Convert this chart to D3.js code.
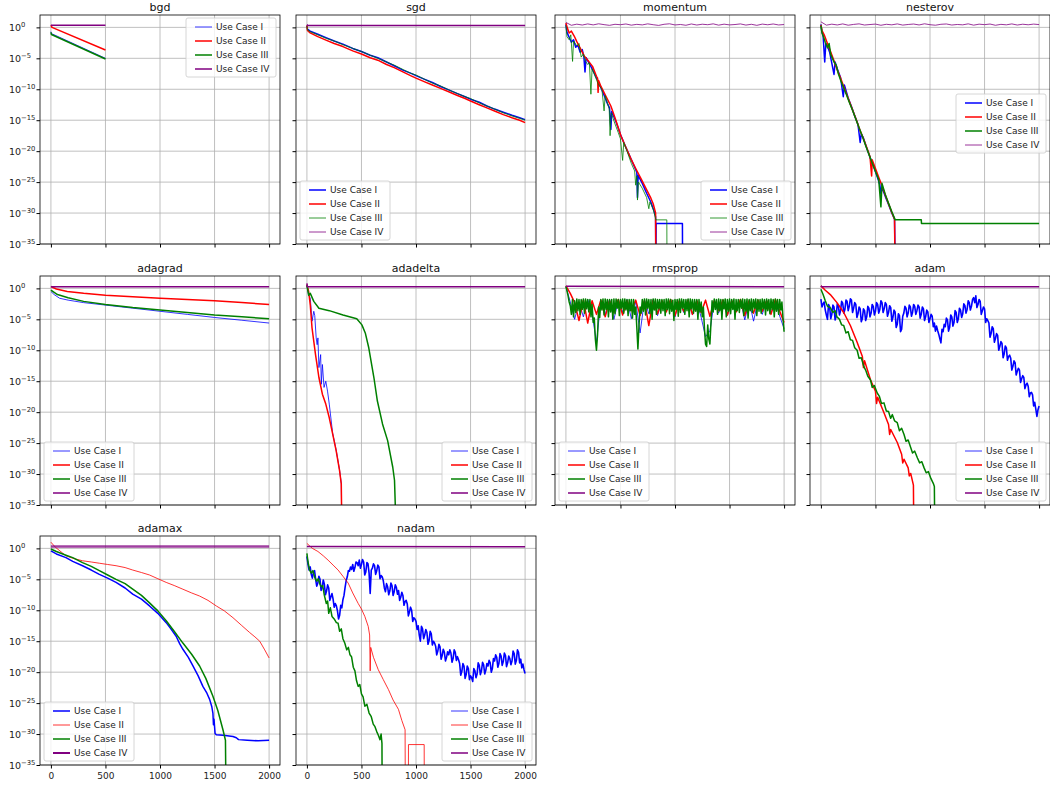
<!DOCTYPE html>
<html><head><meta charset="utf-8">
<script src="https://cdn.jsdelivr.net/npm/d3@7"></script>
<style>body{margin:0;background:#fff} svg{display:block} text{font-family:"DejaVu Sans",sans-serif}</style>
</head><body><svg id="c" width="1050" height="787"></svg>
<script>
// ---- labels ----
const seriesNames = ["Use Case I","Use Case II","Use Case III","Use Case IV"];
const seriesColors = ["#0000ff","#ff0000","#008000","#800080"];
const xTicks = [0,500,1000,1500,2000];
const yTickExps = [0,-5,-10,-15,-20,-25,-30,-35];

// ---- data: [iteration, log10(loss)] pairs; -40 means the loss fell to zero ----
const bgd_I = [[0,-0.7],[5,-1.0],[500,-5.0]];
const bgd_II = [[0,0.35],[10,0.0],[500,-3.65]];
const bgd_III = [[0,-0.8],[5,-1.15],[500,-5.1]];
const bgd_IV = [[0,0.35],[500,0.35]];

const sgd_I = [[0,0.3],[5,-0.3],[30,-0.6],[100,-1.1],[180,-1.7],[250,-2.2],[330,-2.7],[420,-3.4],[500,-3.9],[580,-4.5],[650,-4.9],[730,-5.6],[800,-6.2],[880,-6.9],[950,-7.4],[1000,-7.8],[1080,-8.4],[1150,-8.9],[1230,-9.6],[1300,-10.1],[1380,-10.7],[1450,-11.2],[1500,-11.6],[1580,-12.1],[1650,-12.7],[1720,-13.2],[1800,-13.7],[1880,-14.2],[1950,-14.6],[2000,-14.9]];
const sgd_II = [[0,0.3],[5,-0.5],[30,-0.9],[100,-1.5],[180,-2.1],[250,-2.6],[330,-3.1],[420,-3.8],[500,-4.3],[580,-4.9],[650,-5.3],[730,-6.0],[800,-6.5],[880,-7.2],[950,-7.8],[1000,-8.2],[1080,-8.8],[1150,-9.3],[1230,-9.9],[1300,-10.4],[1380,-11.0],[1450,-11.5],[1500,-11.9],[1580,-12.5],[1650,-13.0],[1720,-13.5],[1800,-14.1],[1880,-14.6],[1950,-15.0],[2000,-15.4]];
const sgd_III = [[0,0.2],[5,-0.4],[30,-0.7],[100,-1.2],[180,-1.8],[250,-2.2],[330,-2.8],[420,-3.4],[500,-3.9],[580,-4.5],[650,-5.0],[730,-5.6],[800,-6.1],[880,-6.8],[950,-7.4],[1000,-7.7],[1080,-8.4],[1150,-9.0],[1230,-9.5],[1300,-10.1],[1380,-10.7],[1450,-11.2],[1500,-11.5],[1580,-12.2],[1650,-12.7],[1720,-13.2],[1800,-13.8],[1880,-14.3],[1950,-14.7],[2000,-15.0]];
const sgd_IV = [[0,0.45],[10,0.3],[2000,0.3]];

const momentum_I = [[0,0.5],[10,-0.8],[30,-1.6],[50,-2.4],[70,-2.0],[90,-3.2],[110,-2.9],[130,-4.0],[150,-3.6],[165,-4.8],[175,-7.2],[185,-4.9],[220,-6.0],[260,-7.4],[300,-8.9],[340,-10.5],[380,-12.3],[400,-13.0],[412,-16.5],[420,-13.6],[460,-15.3],[500,-17.3],[540,-19.0],[580,-20.6],[620,-22.2],[650,-23.4],[656,-27.5],[662,-23.9],[700,-25.2],[740,-26.8],[780,-28.3],[810,-29.8],[822,-30.6],[825,-40],[827,-31.7],[1068,-31.7],[1070,-40]];
const momentum_II = [[0,0.7],[15,-0.2],[30,-0.9],[50,-0.6],[76,-1.4],[100,-2.3],[130,-3.3],[168,-4.6],[200,-5.3],[244,-6.3],[280,-7.9],[290,-8.2],[295,-10.5],[300,-8.6],[320,-9.5],[360,-10.9],[412,-12.7],[450,-14.6],[504,-17.5],[550,-19.4],[595,-21.2],[640,-22.8],[687,-24.4],[730,-25.9],[779,-27.6],[800,-28.5],[815,-29.5],[822,-30.0],[824,-40]];
const momentum_III = [[0,0.3],[10,-1.5],[30,-2.0],[45,-1.2],[61,-5.5],[70,-2.2],[100,-3.0],[120,-2.6],[140,-4.8],[160,-4.3],[180,-5.5],[200,-6.0],[215,-5.7],[229,-10.8],[240,-6.7],[270,-8.0],[300,-9.3],[330,-10.0],[350,-13.5],[360,-11.0],[397,-13.2],[405,-17.5],[415,-13.8],[450,-15.6],[480,-17.0],[500,-18.0],[520,-21.5],[530,-18.6],[560,-20.0],[600,-22.0],[630,-23.2],[640,-25.5],[650,-24.0],[656,-27.9],[665,-25.0],[700,-26.0],[740,-27.5],[760,-29.3],[770,-28.2],[800,-29.4],[815,-30.4],[825,-31.1],[925,-31.1],[927,-40]];
const momentum_IV_step50 = [0.8,0.34,0.52,0.38,0.56,0.40,0.58,0.44,0.33,0.50,0.43,0.55,0.36,0.49,0.40,0.57,0.43,0.32,0.50,0.58,0.39,0.47,0.34,0.55,0.38,0.51,0.43,0.57,0.36,0.52,0.40,0.46,0.56,0.37,0.50,0.33,0.53,0.42,0.55,0.39,0.46];

const nesterov_I = [[0,0.5],[8,-0.6],[20,-1.3],[35,-5.6],[45,-2.6],[60,-3.0],[80,-4.0],[120,-7.6],[130,-5.6],[150,-6.7],[180,-8.1],[205,-11.2],[215,-9.3],[250,-11.4],[280,-12.8],[310,-14.3],[340,-15.7],[360,-18.6],[370,-17.2],[390,-17.9],[420,-19.5],[450,-21.0],[480,-22.3],[510,-23.8],[540,-25.4],[550,-26.9],[560,-25.9],[590,-27.3],[620,-28.6],[650,-30.0],[675,-31.0],[682,-40]];
const nesterov_II = [[0,0.4],[10,-0.5],[30,-1.2],[60,-2.6],[90,-4.0],[120,-5.4],[150,-6.9],[180,-8.2],[210,-9.6],[240,-11.0],[270,-12.4],[300,-13.8],[330,-15.2],[360,-16.7],[390,-18.0],[420,-19.4],[450,-20.9],[465,-24.0],[470,-21.4],[500,-22.8],[530,-24.2],[560,-25.6],[590,-27.1],[620,-28.5],[650,-29.9],[675,-31.0],[680,-40]];
const nesterov_III = [[0,0.3],[10,-0.9],[25,-1.6],[40,-2.4],[60,-3.3],[75,-2.6],[90,-4.4],[120,-5.6],[140,-6.1],[160,-7.5],[180,-8.5],[200,-9.4],[230,-10.7],[260,-12.1],[290,-13.4],[320,-14.8],[350,-16.2],[380,-17.6],[410,-19.1],[440,-20.5],[470,-21.9],[500,-23.3],[530,-24.6],[550,-29.0],[560,-25.2],[590,-27.0],[620,-28.4],[650,-29.8],[681,-31.1],[920,-31.1],[922,-31.7],[2000,-31.7]];
const nesterov_IV_step50 = [0.9,0.36,0.52,0.39,0.56,0.35,0.48,0.57,0.38,0.46,0.53,0.34,0.50,0.41,0.56,0.37,0.47,0.54,0.39,0.58,0.43,0.35,0.50,0.55,0.38,0.47,0.41,0.57,0.36,0.52,0.44,0.54,0.34,0.49,0.41,0.56,0.38,0.51,0.42,0.53,0.45];

const adagrad_I = [[0,-0.5],[30,-1.0],[80,-1.6],[158,-1.9],[300,-2.3],[500,-2.7],[750,-3.2],[1000,-3.7],[1250,-4.2],[1500,-4.7],[1750,-5.15],[2000,-5.6]];
const adagrad_II = [[0,0.3],[50,-0.1],[150,-0.5],[300,-0.8],[500,-1.1],[750,-1.35],[1000,-1.6],[1250,-1.8],[1500,-2.0],[1750,-2.3],[2000,-2.6]];
const adagrad_III = [[0,-0.3],[60,-1.0],[158,-1.5],[300,-2.1],[500,-2.6],[750,-3.1],[1000,-3.5],[1250,-3.9],[1500,-4.3],[1750,-4.6],[2000,-4.9]];
const adagrad_IV = [[0,0.25],[2000,0.25]];

const adadelta_I = [[0,0.5],[16,-1.1],[31,-1.6],[47,-5.3],[63,-3.7],[72,-4.4],[85,-8.0],[94,-9.1],[101,-8.0],[110,-12.8],[126,-10.7],[132,-15.5],[142,-12.3],[157,-16.0],[173,-15.0],[189,-16.6],[205,-18.7],[236,-23.4],[268,-26.1],[299,-29.3],[315,-31.5],[321,-40]];
const adadelta_II = [[0,0.6],[16,-0.5],[31,-2.7],[47,-6.4],[79,-10.7],[110,-14.4],[142,-17.1],[173,-18.7],[205,-20.9],[236,-23.5],[268,-26.2],[299,-29.4],[315,-31.6],[321,-40]];
const adadelta_III = [[0,0.5],[16,-1.1],[31,-0.8],[63,-2.1],[110,-3.2],[205,-3.6],[331,-4.3],[457,-4.9],[504,-5.9],[535,-7.2],[567,-9.6],[614,-14.4],[646,-18.2],[693,-21.9],[740,-24.6],[787,-28.9],[803,-31.0],[819,-40]];
const adadelta_IV = [[0,0.8],[5,0.25],[2000,0.25]];

const rmsprop_I_step40 = [0.3,-2.2,-5.0,-2.2,-4.6,-1.8,-4.0,-8.8,-2.0,-4.2,-1.8,-5.0,-2.0,-3.8,-1.8,-4.9,-2.1,-7.2,-1.9,-4.1,-1.8,-4.4,-2.0,-3.7,-1.9,-4.6,-2.0,-3.9,-1.8,-4.3,-2.0,-4.7,-7.8,-6.9,-2.1,-4.0,-1.9,-4.4,-2.0,-3.8,-1.9,-5.1,-2.0,-5.3,-2.1,-4.2,-1.9,-4.0,-2.0,-4.5,-6.5];
const rmsprop_II_step40 = [0.4,-0.8,-2.3,-5.2,-1.9,-5.6,-2.0,-4.2,-1.9,-4.6,-2.0,-3.9,-1.8,-4.3,-2.0,-3.6,-1.9,-4.4,-2.0,-6.0,-1.9,-4.1,-2.0,-3.8,-1.8,-4.4,-2.0,-3.7,-1.9,-4.2,-2.0,-3.9,-1.9,-4.5,-2.0,-3.6,-1.9,-4.3,-2.0,-3.8,-1.8,-4.4,-2.0,-4.0,-1.9,-3.7,-2.0,-4.2,-1.8,-3.7,-5.5];
const rmsprop_III_step10 = [0.3,-0.4,-1.2,-2.2,-2.8,-4.2,-1.8,-4.6,-2.0,-3.9,
 -1.7,-3.6,-1.8,-4.2,-1.8,-3.4,-1.7,-4.0,-1.7,-3.3,
 -1.8,-3.8,-1.8,-4.6,-2.6,-5.5,-4.8,-8.2,-10.0,-7.5,
 -3.0,-4.7,-1.8,-3.5,-1.7,-4.3,-1.7,-3.4,-1.8,-4.6,
 -1.8,-3.8,-1.8,-5.0,-1.7,-4.1,-1.7,-3.2,-1.8,-4.4,
 -1.8,-3.2,-1.7,-4.0,-1.7,-3.5,-1.8,-4.4,-1.8,-3.6,
 -1.8,-4.8,-1.8,-4.2,-3.0,-6.3,-9.8,-6.0,-3.0,-4.0,
 -1.8,-3.7,-1.7,-4.3,-1.7,-3.2,-1.8,-4.1,-1.8,-5.0,
 -1.7,-3.5,-1.7,-4.2,-1.8,-3.3,-1.8,-4.0,-1.8,-3.6,
 -1.8,-4.4,-1.7,-3.4,-1.7,-4.1,-1.8,-3.7,-1.9,-5.2,
 -1.8,-3.4,-1.8,-4.5,-1.7,-3.9,-1.7,-3.2,-1.8,-4.2,
 -1.8,-3.6,-1.7,-4.6,-1.7,-3.3,-1.8,-4.0,-1.8,-3.7,
 -1.8,-5.0,-1.8,-3.8,-2.2,-4.6,-3.0,-6.5,-9.0,-9.4,
 -5.9,-8.2,-9.0,-5.5,-2.0,-3.8,-1.7,-3.4,-1.8,-4.2,
 -1.7,-3.6,-1.8,-5.0,-1.8,-3.3,-1.7,-4.6,-1.8,-3.7,
 -1.7,-4.1,-1.8,-3.4,-1.7,-5.0,-1.8,-3.6,-1.8,-3.9,
 -1.8,-3.2,-1.7,-4.4,-1.8,-3.7,-1.7,-4.8,-1.8,-3.6,
 -1.7,-3.9,-1.8,-3.2,-1.7,-4.4,-1.8,-3.7,-1.8,-4.0,
 -1.7,-3.3,-1.8,-4.3,-1.7,-3.6,-1.8,-4.1,-1.7,-3.4,
 -1.8,-4.6,-1.7,-3.7,-1.8,-4.2,-1.8,-3.5,-2.2,-4.8,
 -7.0];
const rmsprop_IV = [[0,0.35],[2000,0.25]];

const adam_I_step10 = [-1.75,-3.0,-2.5,-2.2,-3.5,-4.3,-5.0,-2.6,-3.0,-4.9,
 -4.2,-2.7,-3.0,-5.1,-4.5,-2.5,-2.8,-4.3,-3.6,-2.1,
 -2.4,-4.0,-3.4,-1.9,-2.1,-3.6,-2.9,-1.7,-1.9,-3.9,
 -3.2,-2.3,-2.6,-4.7,-4.1,-3.0,-3.3,-5.4,-4.9,-3.3,
 -3.6,-5.2,-4.6,-2.9,-3.2,-4.6,-4.0,-2.6,-2.9,-4.3,
 -3.7,-2.3,-2.6,-4.0,-3.4,-2.0,-2.3,-3.9,-3.3,-2.3,
 -2.6,-4.5,-3.9,-2.8,-3.1,-5.3,-4.7,-3.5,-3.8,-6.3,
 -5.8,-4.1,-4.4,-7.0,-6.6,-4.5,-4.0,-2.9,-3.2,-4.6,
 -4.0,-2.7,-3.0,-4.5,-3.9,-2.6,-2.9,-4.2,-3.6,-2.7,
 -3.0,-4.8,-4.2,-3.0,-3.3,-5.2,-4.6,-3.5,-3.8,-5.5,
 -4.9,-4.2,-4.5,-6.2,-5.6,-6.9,-6.1,-6.8,-7.4,-8.1,
 -8.8,-6.6,-7.0,-5.8,-6.2,-4.8,-5.1,-6.9,-6.3,-4.3,
 -4.6,-6.1,-5.5,-3.6,-3.9,-5.5,-4.9,-3.2,-3.5,-4.7,
 -4.1,-2.5,-2.8,-4.0,-3.4,-2.0,-2.3,-3.5,-2.9,-1.8,
 -1.5,-2.3,-1.2,-3.1,-2.6,-1.8,-2.1,-4.2,-3.6,-3.0,
 -3.3,-5.5,-4.9,-5.2,-5.6,-7.9,-7.3,-6.2,-6.5,-8.7,
 -8.1,-7.3,-7.6,-10.0,-9.4,-8.6,-8.9,-11.2,-10.6,-9.3,
 -9.6,-11.6,-11.0,-10.8,-11.3,-13.2,-12.6,-11.7,-12.0,-14.0,
 -13.4,-12.9,-13.2,-15.2,-14.6,-14.1,-14.4,-16.2,-15.6,-15.3,
 -15.8,-17.5,-16.9,-16.8,-17.2,-19.0,-18.4,-19.5,-20.7,-19.6,
 -19.0];
const adam_II = [[0,0.4],[40,-0.3],[86,-1.0],[147,-2.3],[209,-3.9],[270,-6.0],[332,-8.7],[380,-11.0],[390,-12.8],[400,-11.7],[455,-14.8],[500,-16.6],[510,-18.6],[520,-17.6],[578,-20.1],[620,-22.0],[630,-23.6],[640,-22.8],[700,-24.9],[740,-26.8],[750,-28.2],[762,-27.6],[800,-29.0],[810,-30.3],[823,-29.9],[848,-31.8],[852,-40]];
const adam_III = [[0,-0.15],[20,-1.0],[40,-2.0],[60,-2.9],[86,-3.1],[110,-3.9],[130,-3.6],[147,-4.6],[170,-5.0],[190,-5.9],[209,-6.0],[230,-7.2],[250,-7.0],[270,-8.3],[290,-8.4],[310,-9.6],[332,-10.0],[350,-11.3],[370,-11.2],[393,-12.6],[410,-13.2],[430,-14.2],[455,-14.8],[470,-16.0],[490,-15.7],[516,-16.9],[535,-17.4],[555,-18.6],[578,-18.5],[600,-19.8],[620,-19.9],[639,-21.0],[655,-20.4],[675,-21.4],[700,-21.7],[720,-23.0],[740,-22.6],[762,-23.6],[780,-24.7],[800,-24.5],[823,-25.7],[840,-26.6],[860,-26.3],[885,-27.4],[905,-28.2],[925,-28.0],[946,-29.0],[965,-29.8],[985,-29.6],[1008,-30.7],[1030,-31.5],[1040,-32.0],[1044,-40]];
const adam_IV = [[0,0.4],[10,0.25],[2000,0.25]];

const adamax_I = [[0,-0.4],[50,-0.9],[138,-1.5],[200,-2.1],[290,-2.8],[370,-3.5],[444,-4.2],[520,-4.8],[597,-5.5],[680,-6.4],[750,-7.4],[830,-8.2],[904,-9.3],[980,-10.5],[1057,-12.0],[1100,-13.0],[1148,-14.2],[1180,-15.4],[1210,-16.3],[1260,-17.6],[1302,-19.0],[1350,-20.6],[1393,-22.3],[1430,-23.4],[1455,-24.4],[1475,-25.6],[1485,-26.6],[1490,-28.5],[1495,-27.6],[1505,-29.9],[1516,-30.1],[1580,-30.2],[1669,-30.4],[1700,-30.6],[1720,-30.9],[1800,-31.0],[1900,-31.1],[2000,-31.0]];
const adamax_II = [[0,1.0],[40,0.2],[138,-1.2],[200,-1.6],[290,-2.0],[370,-2.2],[444,-2.4],[520,-2.6],[597,-2.8],[680,-3.1],[750,-3.5],[830,-3.9],[904,-4.3],[980,-4.9],[1057,-5.5],[1130,-6.0],[1210,-6.6],[1290,-7.2],[1363,-7.7],[1440,-8.4],[1516,-9.3],[1590,-10.1],[1669,-11.2],[1745,-12.4],[1822,-13.6],[1870,-14.3],[1914,-15.0],[1960,-16.4],[2000,-17.7]];
const adamax_III = [[0,-0.1],[50,-0.5],[138,-1.1],[200,-1.5],[290,-2.3],[370,-2.9],[444,-3.6],[520,-4.3],[597,-5.0],[680,-5.7],[750,-6.6],[830,-7.6],[904,-8.8],[980,-10.1],[1057,-11.7],[1130,-13.4],[1210,-15.3],[1290,-17.1],[1363,-19.0],[1420,-21.0],[1485,-23.9],[1530,-26.2],[1577,-29.3],[1600,-31.0],[1605,-40]];
const adamax_IV = [[0,0.3],[2000,0.3]];

const nadam_I_step10 = [-1.3,-2.6,-3.5,-3.0,-4.2,-4.8,-3.8,-3.6,-5.0,-6.1,
 -5.6,-4.5,-5.0,-6.8,-6.3,-5.1,-5.8,-7.5,-6.9,-5.9,
 -6.4,-8.4,-7.8,-7.3,-8.2,-9.5,-8.9,-9.3,-10.1,-11.4,
 -10.8,-9.2,-9.6,-8.3,-7.6,-6.3,-5.2,-4.6,-3.6,-3.7,
 -3.0,-3.4,-2.6,-3.7,-3.1,-2.2,-2.3,-2.8,-1.9,-3.2,
 -2.6,-1.8,-2.2,-4.3,-3.8,-2.3,-2.5,-4.0,-7.3,-3.5,
 -3.2,-2.5,-2.8,-4.2,-3.6,-2.7,-3.0,-4.9,-4.4,-4.6,
 -5.2,-6.4,-7.0,-5.7,-6.2,-7.5,-6.9,-5.6,-6.0,-7.6,
 -7.0,-5.9,-6.3,-7.4,-6.8,-8.4,-7.9,-7.1,-7.6,-9.2,
 -8.6,-8.4,-9.0,-10.9,-10.3,-9.5,-10.0,-11.8,-11.2,-11.4,
 -11.8,-13.1,-12.5,-14.0,-15.0,-12.6,-13.0,-14.6,-14.0,-13.1,
 -13.6,-15.5,-14.9,-13.4,-13.8,-15.6,-15.0,-15.3,-15.8,-17.2,
 -16.6,-15.5,-15.9,-17.9,-17.3,-16.3,-16.8,-18.2,-17.6,-16.7,
 -17.2,-16.4,-16.9,-18.4,-17.8,-16.4,-16.8,-18.1,-17.5,-18.0,
 -18.6,-20.5,-19.9,-18.6,-19.0,-21.0,-20.4,-19.0,-19.4,-21.2,
 -20.6,-20.9,-21.5,-19.4,-19.8,-20.9,-20.3,-18.5,-18.9,-20.4,
 -19.8,-18.4,-18.8,-20.3,-19.7,-18.6,-19.0,-18.1,-18.5,-20.0,
 -19.4,-17.8,-18.2,-17.2,-17.6,-19.2,-18.6,-17.0,-17.4,-18.9,
 -18.3,-16.9,-17.3,-19.1,-18.5,-17.4,-17.8,-18.8,-18.2,-16.6,
 -17.0,-18.7,-18.1,-16.4,-16.8,-18.5,-17.9,-19.3,-18.7,-19.6,
 -20.2];
const nadam_II = [[0,0.8],[50,0.0],[101,-0.5],[150,-1.2],[194,-1.9],[240,-2.7],[286,-3.5],[330,-4.5],[378,-5.6],[420,-7.2],[470,-8.9],[500,-9.8],[531,-11.0],[562,-12.6],[575,-14.0],[580,-19.8],[585,-16.0],[610,-17.6],[654,-19.6],[700,-21.2],[747,-22.8],[790,-24.5],[839,-26.0],[870,-27.8],[900,-29.3],[902,-40],[930,-40],[931,-31.7],[1075,-31.7],[1076,-40]];
const nadam_III = [[0,-0.8],[10,-2.2],[25,-3.5],[40,-4.0],[55,-3.6],[70,-4.6],[90,-5.3],[105,-4.9],[120,-5.8],[132,-6.2],[145,-6.0],[160,-7.6],[178,-8.9],[190,-8.5],[200,-10.5],[215,-9.6],[230,-11.0],[250,-11.4],[270,-12.0],[286,-12.1],[300,-13.4],[315,-13.0],[330,-14.6],[347,-15.3],[365,-16.4],[380,-16.0],[395,-17.2],[409,-17.5],[425,-19.2],[440,-19.8],[455,-21.4],[470,-22.3],[485,-22.0],[500,-23.5],[515,-24.0],[531,-25.5],[550,-25.2],[570,-26.6],[590,-27.2],[608,-28.4],[624,-28.8],[640,-29.6],[655,-30.2],[670,-30.9],[680,-30.0],[688,-31.5],[690,-40]];
const nadam_IV = [[0,0.3],[2000,0.27]];

// ---- helpers ----
const fromStep = (vals, step) => vals.map((v, i) => [i * step, v]);

const panels = [
  {title:"bgd", row:0, col:0, series:[bgd_I,bgd_II,bgd_III,bgd_IV], widths:[0.8,1.5,1.5,1.5], legend:"ur"},
  {title:"sgd", row:0, col:1, series:[sgd_I,sgd_II,sgd_III,sgd_IV], widths:[1.5,1.5,0.8,1.4], legend:"ll"},
  {title:"momentum", row:0, col:2, series:[momentum_I,momentum_II,momentum_III,fromStep(momentum_IV_step50,50)], widths:[1.5,1.5,0.8,0.8], legend:"lr"},
  {title:"nesterov", row:0, col:3, series:[nesterov_I,nesterov_II,nesterov_III,fromStep(nesterov_IV_step50,50)], widths:[1.5,1.5,1.5,0.8], legend:"cr"},
  {title:"adagrad", row:1, col:0, series:[adagrad_I,adagrad_II,adagrad_III,adagrad_IV], widths:[0.8,1.5,1.5,1.5], legend:"ll"},
  {title:"adadelta", row:1, col:1, series:[adadelta_I,adadelta_II,adadelta_III,adadelta_IV], widths:[0.8,1.5,1.5,1.5], legend:"lr"},
  {title:"rmsprop", row:1, col:2, series:[fromStep(rmsprop_I_step40,40),fromStep(rmsprop_II_step40,40),fromStep(rmsprop_III_step10,10),rmsprop_IV], widths:[0.8,1.5,1.5,1.5], legend:"ll"},
  {title:"adam", row:1, col:3, series:[fromStep(adam_I_step10,10),adam_II,adam_III,adam_IV], widths:[1.6,1.5,1.5,1.5], legend:"lr"},
  {title:"adamax", row:2, col:0, series:[adamax_I,adamax_II,adamax_III,adamax_IV], widths:[1.5,0.8,1.5,2.5], legend:"ll"},
  {title:"nadam", row:2, col:1, series:[fromStep(nadam_I_step10,10),nadam_II,nadam_III,nadam_IV], widths:[1.6,0.8,1.5,1.5], legend:"lr"}
];
const legendWidths = {sgd:[1.5,1.5,0.8,0.8], adam:[0.8,1.5,1.5,1.5], nadam:[0.8,0.8,1.5,1.5]};

// ---- layout ----
const colX = [40, 296, 555, 810], rowY = [15, 276, 536];
const W = 240, H = 229;
const x = d3.scaleLinear().domain([-100, 2100]).range([0, W]);
const y = d3.scaleLog().domain([1e-35, 1e2]).range([H, 0]);
const line = d3.line().x(d => x(d[0])).y(d => y(Math.pow(10, d[1])));

const svg = d3.select("#c");
svg.append("defs").append("clipPath").attr("id", "clip")
  .append("rect").attr("x", 0).attr("y", 0).attr("width", W).attr("height", H);

panels.forEach(p => {
  const g = svg.append("g").attr("transform", `translate(${colX[p.col]},${rowY[p.row]})`);
  // grid
  g.append("g").selectAll("line").data(xTicks).join("line")
    .attr("x1", d => x(d)).attr("x2", d => x(d)).attr("y1", 0).attr("y2", H)
    .attr("stroke", "#b0b0b0").attr("stroke-width", 0.8);
  g.append("g").selectAll("line").data(yTickExps).join("line")
    .attr("x1", 0).attr("x2", W).attr("y1", d => y(Math.pow(10, d))).attr("y2", d => y(Math.pow(10, d)))
    .attr("stroke", "#b0b0b0").attr("stroke-width", 0.8);
  // series
  const lg = g.append("g").attr("clip-path", "url(#clip)");
  p.series.forEach((s, i) => {
    lg.append("path").datum(s).attr("d", line)
      .attr("fill", "none").attr("stroke", seriesColors[i])
      .attr("stroke-width", p.widths[i]).attr("stroke-linejoin", "round")
      .attr("stroke-opacity", (i === 3 && p.widths[i] > 2) ? 0.75 : 1);
  });
  // frame
  g.append("rect").attr("width", W).attr("height", H).attr("fill", "none")
    .attr("stroke", "#000").attr("stroke-width", 0.8);
  // axes ticks
  const xa = g.append("g").attr("transform", `translate(0,${H})`)
    .call(d3.axisBottom(x).tickValues(xTicks).tickSize(3.5).tickPadding(4)
      .tickFormat(p.row === 2 ? d3.format("d") : () => ""));
  xa.select(".domain").remove();
  xa.selectAll("text").attr("font-size", 9).attr("font-family", "DejaVu Sans, sans-serif").attr("fill", "#222");
  const ya = g.append("g")
    .call(d3.axisLeft(y).tickValues(yTickExps.map(e => Math.pow(10, e))).tickSize(3.5).tickFormat(() => ""));
  ya.select(".domain").remove();
  if (p.col === 0) {
    yTickExps.forEach(e => {
      const t = g.append("text").attr("x", -31).attr("y", y(Math.pow(10, e)) + 3.5)
        .attr("font-size", 9.5).attr("fill", "#222");
      t.append("tspan").text("10");
      t.append("tspan").attr("dy", -4).attr("font-size", 6.8).text(e === 0 ? "0" : "\u2212" + (-e));
    });
  }
  // title
  g.append("text").attr("x", W / 2).attr("y", -4).attr("text-anchor", "middle")
    .attr("font-size", 11).attr("fill", "#111").text(p.title);
  // legend
  const bw = 90, bh = 59;
  let bx, by;
  if (p.legend === "ur") { bx = W - 4 - bw; by = 3; }
  else if (p.legend === "ll") { bx = 4; by = H - 4 - bh; }
  else if (p.legend === "lr") { bx = W - 4 - bw; by = H - 4 - bh; }
  else { bx = W - 4 - bw; by = 79; }
  const lw = legendWidths[p.title] || p.widths;
  const L = g.append("g");
  L.append("rect").attr("x", bx).attr("y", by).attr("width", bw).attr("height", bh).attr("rx", 2)
    .attr("fill", "#fff").attr("fill-opacity", 0.8).attr("stroke", "#cccccc").attr("stroke-width", 0.8);
  seriesNames.forEach((n, i) => {
    const cy = by + 9 + i * 14;
    L.append("line").attr("x1", bx + 9).attr("x2", bx + 26).attr("y1", cy).attr("y2", cy)
      .attr("stroke", seriesColors[i]).attr("stroke-width", Math.min(lw[i], 2));
    L.append("text").attr("x", bx + 30).attr("y", cy + 3.2).attr("font-size", 9).attr("fill", "#222").text(n);
  });
});
</script></body></html>
